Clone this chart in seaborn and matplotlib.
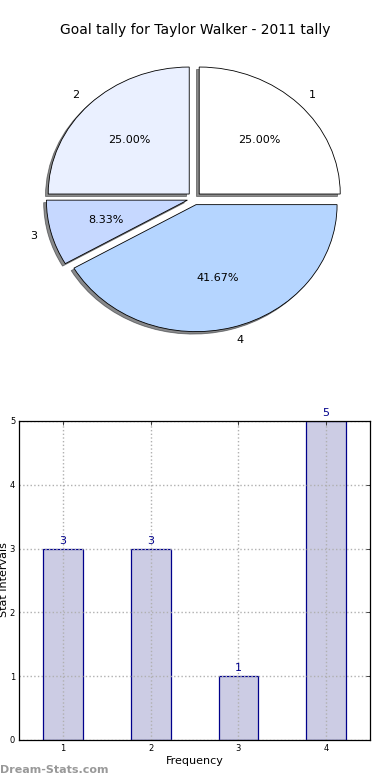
import matplotlib
matplotlib.use("Agg")
import matplotlib.pyplot as plt
import seaborn as sns
import pandas as pd

# goal tally data
pie_labels = ['1', '2', '3', '4']
pie_counts = [3, 3, 1, 5]
pie_colors = ['#ffffff', '#eaf0ff', '#c6d8ff', '#b5d5ff']

bar_cats = ['1', '2', '3', '4']
bar_vals = [3, 3, 1, 5]

sns.set_style('white')
plt.rcParams['font.family'] = ['DejaVu Sans']
plt.rcParams['text.color'] = 'black'
plt.rcParams['axes.labelcolor'] = 'black'
plt.rcParams['xtick.color'] = 'black'
plt.rcParams['ytick.color'] = 'black'

fig = plt.figure(figsize=(3.9, 7.8), dpi=100)

# pie chart (stretched, as in the original)
ax1 = fig.add_axes([0.046, 0.542, 0.904, 0.407])
ax1.pie(pie_counts, labels=pie_labels, colors=pie_colors, autopct='%1.2f%%',
        explode=[0.05] * 4, shadow={'ox': -0.014, 'oy': -0.014, 'shade': 0.9},
        startangle=0,
        wedgeprops={'edgecolor': 'black', 'linewidth': 0.6},
        textprops={'fontsize': 8, 'color': 'black'})
ax1.set_aspect('auto')
ax1.set_xlim(-1.25, 1.25)
ax1.set_ylim(-1.25, 1.25)
ax1.axis('off')
fig.text(0.5, 1 - 30 / 780, 'Goal tally for Taylor Walker - 2011 tally',
         ha='center', va='center', fontsize=10)

# bar chart
ax2 = fig.add_axes([0.0495, 0.0513, 0.899, 0.409])
df = pd.DataFrame({'Frequency': bar_cats, 'Value': bar_vals})
sns.barplot(data=df, x='Frequency', y='Value', ax=ax2, color='#ccccE4',
            saturation=1, edgecolor='#00008b', linewidth=0.9, width=0.45,
            zorder=2)
ax2.bar_label(ax2.containers[0], padding=2, color='#00008b', fontsize=8)
ax2.set_xlim(-0.5, 3.5)
ax2.set_ylim(0, 5)
ax2.set_yticks(range(0, 6))
ax2.grid(True, linestyle=':', color='#b0b0b0', linewidth=1.0, zorder=3)
ax2.set_axisbelow(False)
for s in ax2.spines.values():
    s.set_color('black')
    s.set_linewidth(0.9)
    s.set_zorder(5)
ax2.tick_params(direction='in', top=True, right=True, length=3, width=0.5,
                labelsize=6, pad=3)
ax2.set_xlabel('Frequency', fontsize=8, labelpad=2)
ax2.set_ylabel('')
fig.text(0.009, 1 - 580 / 780, 'Stat Intervals', rotation=90,
         ha='center', va='center', fontsize=8)

fig.text(0.0, 1 - 770 / 780, 'Dream-Stats.com', ha='left', va='center',
         fontsize=8, color='#999999', fontweight='bold')

fig.savefig('out.png', dpi=100)
